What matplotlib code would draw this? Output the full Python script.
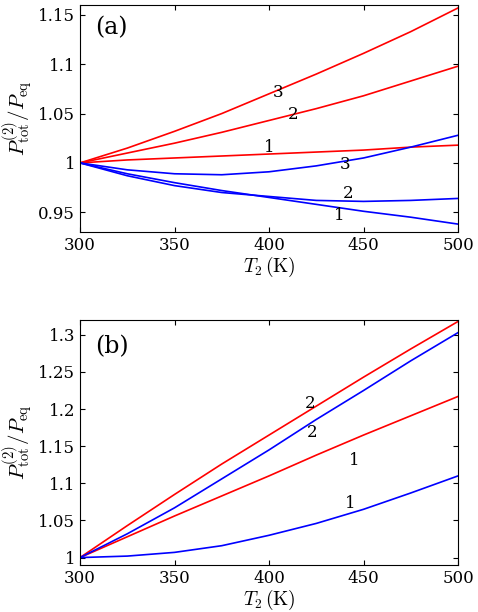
import matplotlib
matplotlib.use("Agg")
import matplotlib.pyplot as plt
from matplotlib.ticker import FuncFormatter, MultipleLocator

plt.rcParams['mathtext.fontset'] = 'cm'
plt.rcParams['font.family'] = 'serif'
plt.rcParams['font.serif'] = ['DejaVu Serif']

T = [300, 325, 350, 375, 400, 425, 450, 475, 500]
a_red3 = [1.0, 1.015, 1.032, 1.050, 1.070, 1.090, 1.111, 1.133, 1.157]
a_red2 = [1.0, 1.010, 1.020, 1.031, 1.043, 1.055, 1.068, 1.083, 1.098]
a_red1 = [1.0, 1.003, 1.005, 1.007, 1.009, 1.011, 1.013, 1.016, 1.018]
a_blue3 = [1.0, 0.993, 0.989, 0.988, 0.991, 0.997, 1.005, 1.016, 1.028]
a_blue2 = [1.0, 0.987, 0.977, 0.970, 0.966, 0.962, 0.961, 0.962, 0.964]
a_blue1 = [1.0, 0.989, 0.980, 0.972, 0.965, 0.958, 0.951, 0.945, 0.938]
b_red2 = [1.0, 1.043, 1.085, 1.126, 1.165, 1.204, 1.243, 1.281, 1.318]
b_blue2 = [1.0, 1.032, 1.067, 1.106, 1.145, 1.186, 1.225, 1.265, 1.303]
b_red1 = [1.0, 1.028, 1.056, 1.083, 1.110, 1.138, 1.165, 1.191, 1.217]
b_blue1 = [1.0, 1.002, 1.007, 1.016, 1.030, 1.046, 1.065, 1.087, 1.110]

fig = plt.figure(figsize=(4.78, 6.12), dpi=100)
ax1 = fig.add_axes([80/478, 1-232/612, 378/478, 227/612])
ax2 = fig.add_axes([80/478, 1-565/612, 378/478, 245/612])

def fmt(v, p):
    return ('%.2f' % v).rstrip('0').rstrip('.')

for ax in (ax1, ax2):
    ax.set_xlim(300, 500)
    ax.xaxis.set_major_locator(MultipleLocator(50))
    ax.yaxis.set_major_locator(MultipleLocator(0.05))
    ax.yaxis.set_major_formatter(FuncFormatter(fmt))
    ax.tick_params(direction='in', top=True, right=True, labelsize=12)
    ax.set_xlabel(r'$T_2\,\mathrm{(K)}$', fontsize=14, labelpad=1)
    ax.set_ylabel(r'$P_{\mathrm{tot}}^{(2)}/P_{\mathrm{eq}}$', fontsize=15, labelpad=2)

ax1.set_ylim(0.93, 1.16)
for y in (a_red3, a_red2, a_red1):
    ax1.plot(T, y, color='red', lw=1.2)
for y in (a_blue3, a_blue2, a_blue1):
    ax1.plot(T, y, color='blue', lw=1.2)
for x, y, t in [(405, 1.071, '3'), (413, 1.049, '2'), (400, 1.016, '1'),
                (440, 0.998, '3'), (442, 0.969, '2'), (437, 0.947, '1')]:
    ax1.text(x, y, t, fontsize=12, ha='center', va='center')
ax1.text(0.04, 0.9, '(a)', transform=ax1.transAxes, fontsize=17, va='center')

ax2.set_ylim(0.99, 1.32)
for y in (b_red2, b_red1):
    ax2.plot(T, y, color='red', lw=1.2)
for y in (b_blue2, b_blue1):
    ax2.plot(T, y, color='blue', lw=1.2)
for x, y, t in [(422, 1.208, '2'), (423, 1.168, '2'), (445, 1.131, '1'), (443, 1.073, '1')]:
    ax2.text(x, y, t, fontsize=12, ha='center', va='center')
ax2.text(0.04, 0.89, '(b)', transform=ax2.transAxes, fontsize=17, va='center')

fig.savefig('out.png', dpi=100)
